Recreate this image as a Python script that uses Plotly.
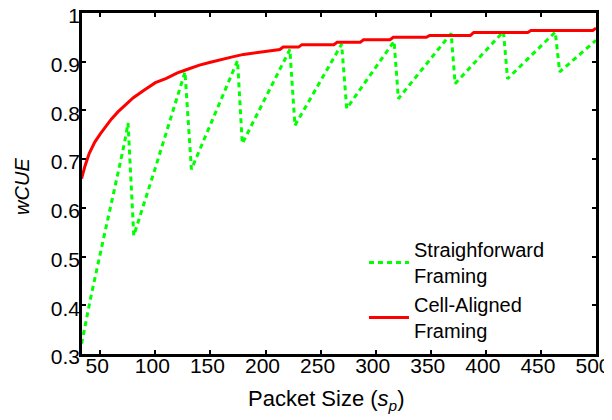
import plotly.graph_objects as go

# Straighforward framing (green dotted sawtooth)
sf_x = [33, 41.5, 52, 60, 67, 72, 75.2, 80.4, 99.7, 126.9, 132.7, 174.6, 178.9,
        222.1, 226.7, 269.1, 273.7, 316.7, 320.6, 368.5, 372.1, 416, 419.7,
        463, 467, 500]
sf_y = [0.321, 0.418, 0.527, 0.606, 0.681, 0.734, 0.774, 0.543, 0.680, 0.879,
        0.679, 0.902, 0.732, 0.925, 0.769, 0.936, 0.804, 0.942, 0.824, 0.958,
        0.855, 0.962, 0.865, 0.961, 0.879, 0.944]

# Cell-aligned framing (red solid)
ca_x = [33, 36, 40, 45, 50, 55, 60, 66, 72, 80, 90, 100, 110, 120, 130, 140,
        150, 160, 170, 180, 190, 200, 210, 213, 216, 230, 233, 262, 265, 286,
        289, 313, 316, 346, 349, 386, 389, 438, 441, 497, 500]
ca_y = [0.660, 0.685, 0.712, 0.735, 0.752, 0.768, 0.782, 0.797, 0.810, 0.826,
        0.842, 0.857, 0.866, 0.877, 0.885, 0.893, 0.899, 0.905, 0.910, 0.915,
        0.918, 0.922, 0.925, 0.925, 0.930, 0.930, 0.935, 0.935, 0.940, 0.940,
        0.945, 0.945, 0.950, 0.950, 0.954, 0.954, 0.960, 0.960, 0.964, 0.964,
        0.969]

x_ticks = [50, 100, 150, 200, 250, 300, 350, 400, 450, 500]
y_ticks = [0.3, 0.4, 0.5, 0.6, 0.7, 0.8, 0.9, 1]
y_tick_text = ["0.3", "0.4", "0.5", "0.6", "0.7", "0.8", "0.9", "1"]

FONT = "Liberation Sans, Arial, Helvetica, sans-serif"

fig = go.Figure()
fig.add_trace(go.Scatter(
    x=sf_x, y=sf_y, mode="lines",
    name="Straighforward<br>Framing",
    line=dict(color="#00ff00", width=3, dash="5px,4px"),
))
fig.add_trace(go.Scatter(
    x=ca_x, y=ca_y, mode="lines",
    name="Cell-Aligned<br>Framing",
    line=dict(color="#ff0000", width=3),
))

axis_common = dict(
    showgrid=False, zeroline=False, automargin=False,
    showline=True, linecolor="black", linewidth=2.5, mirror="allticks",
    ticks="inside", ticklen=4, tickwidth=2, tickcolor="black",
    ticklabeloverflow="allow",
    tickfont=dict(family=FONT, size=21, color="black"),
)

fig.update_layout(
    width=604, height=412,
    margin=dict(l=74, r=16, t=5, b=66),
    paper_bgcolor="white", plot_bgcolor="white",
    font=dict(family=FONT, size=21, color="black"),
    xaxis=dict(range=[33.4, 500], tickvals=x_ticks,
               ticklabelstandoff=-9, ticklabelshift=-3, **axis_common),
    yaxis=dict(range=[0.3, 1], tickvals=y_ticks, ticktext=y_tick_text,
               ticklabelstandoff=-5, ticklabelshift=3, **axis_common),
    legend=dict(
        x=0.5486, y=0.364, xanchor="left", yanchor="top",
        bgcolor="rgba(0,0,0,0)", borderwidth=0,
        font=dict(family=FONT, size=20, color="black"),
        itemwidth=40, tracegroupgap=0,
    ),
    showlegend=True,
    annotations=[
        dict(text="Packet Size (<i>s</i><sub><i>p</i></sub>)",
             xref="paper", yref="paper", x=0.4755, y=-0.135,
             xanchor="center", yanchor="middle", showarrow=False,
             font=dict(family=FONT, size=22, color="black")),
        dict(text="<i>wCUE</i>", textangle=-90,
             xref="paper", yref="paper", x=-0.1154, y=0.492,
             xanchor="center", yanchor="middle", showarrow=False,
             font=dict(family=FONT, size=20, color="black")),
    ],
)

fig.write_html("out.html")
